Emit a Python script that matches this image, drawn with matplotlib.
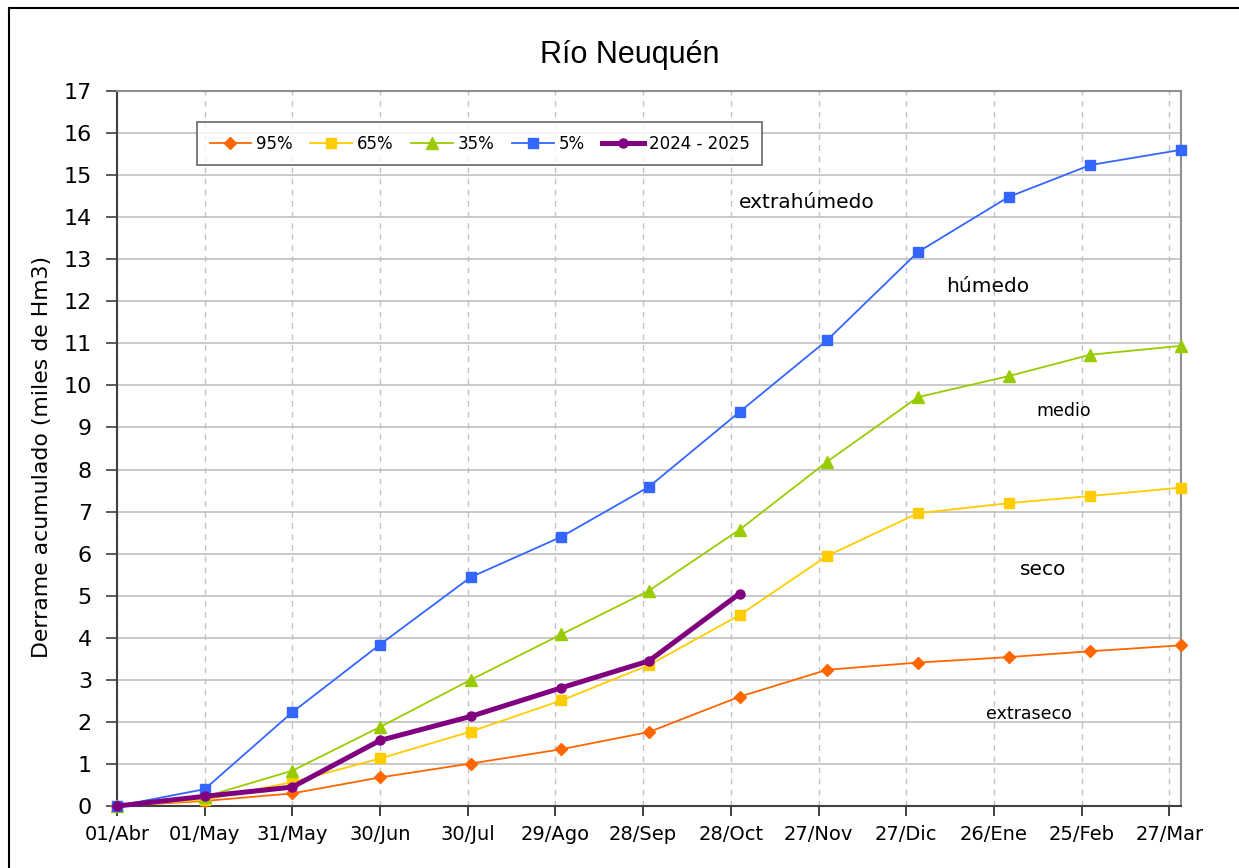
import matplotlib
matplotlib.use("Agg")
from matplotlib import pyplot as plt
from matplotlib.lines import Line2D

# days counted from 01/Abr
point_days = [0, 30, 60, 90, 121, 152, 182, 213, 243, 274, 305, 333, 364]
tick_days = [0, 30, 60, 90, 120, 150, 180, 210, 240, 270, 300, 330, 360]
tick_labels = ["01/Abr", "01/May", "31/May", "30/Jun", "30/Jul", "29/Ago", "28/Sep",
               "28/Oct", "27/Nov", "27/Dic", "26/Ene", "25/Feb", "27/Mar"]

# derrame acumulado, miles de Hm3
p95 = [0, 0.12, 0.30, 0.68, 1.01, 1.35, 1.76, 2.60, 3.24, 3.41, 3.54, 3.68, 3.82]
p65 = [0, 0.15, 0.57, 1.13, 1.77, 2.51, 3.35, 4.54, 5.95, 6.96, 7.20, 7.37, 7.57]
p35 = [0, 0.22, 0.84, 1.88, 3.00, 4.08, 5.12, 6.57, 8.19, 9.72, 10.22, 10.73, 10.94]
p5 = [0, 0.40, 2.23, 3.84, 5.44, 6.40, 7.59, 9.37, 11.08, 13.17, 14.48, 15.24, 15.60]
season = [0, 0.23, 0.45, 1.56, 2.13, 2.81, 3.45, 5.05]

zones = ["extrahúmedo", "húmedo", "medio", "seco", "extraseco"]
zone_x = [236, 298, 324, 317, 312]
zone_y = [14.36, 12.36, 9.39, 5.63, 2.19]
zone_size = [14.5, 14.5, 12.5, 14.5, 12.5]

fig = plt.figure(figsize=(12.39, 8.68), dpi=100)
ax = fig.add_axes([0.0944, 0.0714, 0.8588, 0.8238])

ax.plot(point_days, p95, color="#FF6600", lw=1.3, marker="D", ms=6, label="95%", clip_on=False, zorder=3)
ax.plot(point_days, p65, color="#FFCC00", lw=1.3, marker="s", ms=6.5, label="65%", clip_on=False, zorder=3)
ax.plot(point_days, p35, color="#99CC00", lw=1.3, marker="^", ms=9, label="35%", clip_on=False, zorder=3)
ax.plot(point_days, p5, color="#3366FF", lw=1.3, marker="s", ms=7.5, label="5%", clip_on=False, zorder=3)
ax.plot(point_days[:len(season)], season, color="#800080", lw=3.6, marker="o", ms=6.5,
        label="2024 - 2025", clip_on=False, zorder=4)

for name, x, y, s in zip(zones, zone_x, zone_y, zone_size):
    ax.text(x, y, name, fontsize=s, ha="center", va="center", color="black")

ax.set_xlim(0, 364)
ax.set_ylim(0, 17)
ax.set_xticks(tick_days)
ax.set_xticklabels(tick_labels, fontsize=14)
ax.set_yticks(range(0, 18))
ax.tick_params(axis="y", labelsize=16, length=8, width=1.2, pad=10, color="#404040")
ax.tick_params(axis="x", length=7, width=1.2, pad=7, color="#202020")

ax.grid(axis="y", color="#c0c0c0", lw=1.2, ls="-")
ax.grid(axis="x", color="#c0c0c0", lw=1.0, ls=(0, (4, 4)))
ax.set_axisbelow(True)

for side in ["left", "bottom"]:
    ax.spines[side].set_color("#404040")
    ax.spines[side].set_linewidth(1.5)
for side in ["top", "right"]:
    ax.spines[side].set_color("#909090")
    ax.spines[side].set_linewidth(1.5)

leg = ax.legend(loc="upper left", bbox_to_anchor=(0.159, 0.859), bbox_transform=fig.transFigure,
                ncol=5, fontsize=12, frameon=True, fancybox=False, handlelength=2.5,
                columnspacing=1.05, handletextpad=0.3, borderpad=0.75, borderaxespad=0)
leg.get_frame().set_edgecolor("#404040")
leg.get_frame().set_linewidth(1.2)

fig.text(0.508, 0.9366, "Río Neuquén", fontsize=22, family="Liberation Sans",
         ha="center", va="center")
fig.text(0.034, 0.473, "Derrame acumulado (miles de Hm3)", fontsize=15.8, rotation=90,
         ha="center", va="center")

# outer frame (left and top edges)
fig.add_artist(Line2D([0.0073, 0.0073], [0, 0.9908], transform=fig.transFigure, color="black", lw=1.5))
fig.add_artist(Line2D([0.0073, 1.0], [0.9908, 0.9908], transform=fig.transFigure, color="black", lw=1.5))

fig.savefig("out.png", dpi=100)
